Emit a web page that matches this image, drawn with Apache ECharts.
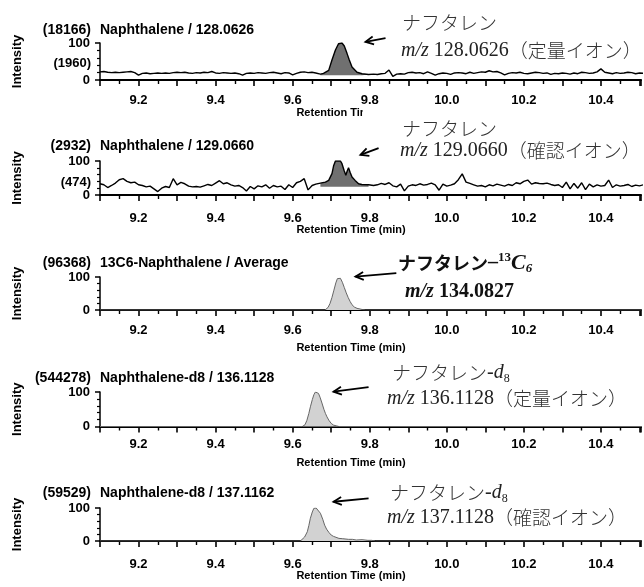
<!DOCTYPE html>
<html>
<head>
<meta charset="utf-8">
<script src="https://cdn.jsdelivr.net/npm/echarts@6/dist/echarts.min.js"></script>
<style>html,body{margin:0;padding:0;background:#fff}#c{width:644px;height:587px}</style>
</head>
<body>
<div id="c"></div>
<script>
// ---------- DATA ----------
const timesPre = [9.10,9.11,9.12,9.13,9.14,9.15,9.16,9.17,9.18,9.19,
  9.20,9.21,9.22,9.23,9.24,9.25,9.26,9.27,9.28,9.29,
  9.30,9.31,9.32,9.33,9.34,9.35,9.36,9.37,9.38,9.39,
  9.40,9.41,9.42,9.43,9.44,9.45,9.46,9.47,9.48,9.49,
  9.50,9.51,9.52,9.53,9.54,9.55,9.56,9.57,9.58,9.59,
  9.60,9.61,9.62,9.63,9.64];
const timesPost = [9.81,9.82,9.83,9.84,9.85,9.86,9.87,9.88,9.89,9.90,
  9.91,9.92,9.93,9.94,9.95,9.96,9.97,9.98,9.99,10.00,
  10.01,10.02,10.03,10.04,10.05,10.06,10.07,10.08,10.09,10.10,
  10.11,10.12,10.13,10.14,10.15,10.16,10.17,10.18,10.19,10.20,
  10.21,10.22,10.23,10.24,10.25,10.26,10.27,10.28,10.29,10.30,
  10.31,10.32,10.33,10.34,10.35,10.36,10.37,10.38,10.39,10.40,
  10.41,10.42,10.43,10.44,10.45,10.46,10.47,10.48,10.49,10.50,
  10.51,10.52,10.53,10.54,10.55];

// Panel 1: Naphthalene / 128.0626
const pre1 = [22,23,21,20,21,20,21,22,23,20, 13,18,19,17,18,19,18,19,18,20,
  21,20,21,19,18,20,19,21,20,23, 19,18,20,19,18,19,17,13,18,19,
  18,20,19,18,20,21,19,17,20,19, 14,18,21,22,20];
const peakTimes1 = [9.65,9.66,9.672,9.68,9.6935,9.702,9.711,9.719,9.728,9.734,9.741,9.747,9.754,9.767,9.78,9.797];
const peakVals1  = [21,19,16,18,26,54,81,98,100,92,72,54,35,21,17,15];
const post1 = [16,15,17,18,27,10,16,17,16,20, 21,19,20,17,22,18,13,17,19,18,
  15,19,20,19,17,21,18,20,22,21, 25,22,23,19,14,18,20,19,21,18,
  17,19,21,20,18,19,15,18,17,19, 18,16,19,17,21,20,18,19,22,30,
  21,19,17,20,18,19,21,20,17,19, 18,20,19,18,19];

// Panel 2: Naphthalene / 129.0660
const pre2 = [33,30,22,28,35,45,48,40,36,38, 30,28,24,26,18,10,20,25,22,48,
  30,37,33,26,24,25,23,27,31,28, 35,42,33,36,30,26,28,22,12,25,
  18,27,24,30,20,28,24,26,16,30, 22,36,40,48,15];
const peakTimes2 = [9.6505,9.66,9.672,9.685,9.6935,9.702,9.7065,9.711,9.7153,9.724,9.728,9.7335,9.738,9.742,9.745,9.749,9.754,9.762,9.771,9.7795,9.797];
const peakVals2  = [28,32,35,38,43,63,87,100,99,100,92,72,58,72,80,67,53,43,33,31,30];
const post2 = [28,30,34,31,36,27,24,32,12,26, 30,28,33,29,31,35,30,14,32,26,
  29,33,45,62,38,34,30,26,28,24, 30,27,32,29,26,31,28,36,33,40,
  44,32,36,34,33,35,31,28,30,22, 38,18,34,20,36,16,32,24,30,26,
  28,44,22,30,26,28,31,25,29,27, 30,26,28,27,29];

// Panel 3: 13C6-Naphthalene / Average
const times3 = [9.10,9.684,9.688,9.692,9.697,9.702,9.707,9.712,9.716,9.720,9.724,9.729,9.734,9.739,9.744,9.749,9.754,9.760,9.767,9.775,9.782,9.79,10.55];
const vals3  = [0,0,2,8,20,38,60,82,95,100,96,84,68,52,38,26,16,9,5,3,1,0,0];

// Panel 4: Naphthalene-d8 / 136.1128
const times4 = [9.10,9.625,9.632,9.637,9.642,9.646,9.651,9.655,9.659,9.663,9.667,9.671,9.676,9.681,9.685,9.689,9.694,9.700,9.706,9.713,9.720,10.55];
const vals4  = [0,0,5,18,38,57,78,92,100,100,96,85,68,50,38,28,18,9,4,2,0,0];

// Panel 5: Naphthalene-d8 / 137.1162
const times5 = [9.10,9.620,9.625,9.631,9.638,9.642,9.646,9.651,9.655,9.661,9.666,9.672,9.678,9.683,9.688,9.694,9.700,9.706,9.711,9.720,9.730,9.745,9.755,9.765,9.780,9.795,9.805,9.815,10.55];
const vals5  = [0,0,3,12,28,47,69,88,99,100,94,84,66,48,36,26,18,14,11,8,7,5,5,3,4,2,2,0,0];

const peakWindow1 = [9.672, 9.797];
const peakWindow2 = [9.672, 9.797];

const xTickLabels = ['9.2','9.4','9.6','9.8','10.0','10.2','10.4'];
const leftCounts = ['(18166)','(2932)','(96368)','(544278)','(59529)'];
const panelTitles = ['Naphthalene / 128.0626','Naphthalene / 129.0660','13C6-Naphthalene / Average','Naphthalene-d8 / 136.1128','Naphthalene-d8 / 137.1162'];
const noiseLabels = ['(1960)','(474)'];

// annotation arrows [tail, head] in data coords
const arrows = [
  [[9.841,113],[9.789,103]],
  [[9.823,138],[9.776,118]],
  [[9.869,112],[9.763,101]],
  [[9.797,114],[9.706,101]],
  [[9.797,129],[9.706,119]]
];

// ---------- BUILD ----------
const pair = (ts, vs) => ts.map((t, i) => [t, vs[i]]);
const d1 = pair(timesPre, pre1).concat(pair(peakTimes1, peakVals1), pair(timesPost, post1));
const d2 = pair(timesPre, pre2).concat(pair(peakTimes2, peakVals2), pair(timesPost, post2));
const d3 = pair(times3, vals3), d4 = pair(times4, vals4), d5 = pair(times5, vals5);
const f1 = d1.filter(p => p[0] >= peakWindow1[0] && p[0] <= peakWindow1[1]);
const f2 = d2.filter(p => p[0] >= peakWindow2[0] && p[0] <= peakWindow2[1]);

const FF = '"Liberation Sans", Arial, sans-serif';
const grids = [
  {left:100, right:0, top:43, height:37},
  {left:100, right:0, top:161, height:34},
  {left:100, right:0, top:277, height:33},
  {left:100, right:0, top:392, height:34.5},
  {left:100, right:0, top:508, height:33}
];
const labelMargins = [14, 17, 14, 11, 17];

const xAxes = grids.map((g, i) => ({
  gridIndex: i, type: 'value', min: 9.1, max: 10.504, interval: 0.1,
  axisLine: {lineStyle: {color: '#000', width: 2.2}},
  axisTick: {length: 6, lineStyle: {color: '#000', width: 1.6}},
  minorTick: {show: true, splitNumber: 2, length: 4, lineStyle: {color: '#000', width: 1.4}},
  splitLine: {show: false}, minorSplitLine: {show: false},
  axisLabel: {margin: labelMargins[i], fontSize: 13, fontWeight: 'bold', color: '#000', fontFamily: FF,
    formatter: v => { const s = v.toFixed(1); return xTickLabels.indexOf(s) >= 0 ? s : ''; }}
}));
const yAxes = grids.map((g, i) => ({
  gridIndex: i, type: 'value', min: 0, max: 100, interval: 100,
  name: 'Intensity', nameLocation: 'middle', nameGap: 76,
  nameTextStyle: {fontSize: 13, fontWeight: 'bold', color: '#000', fontFamily: FF},
  axisLine: {show: true, lineStyle: {color: '#000', width: 1.5}},
  axisTick: {show: true, length: 5, lineStyle: {color: '#000', width: 1.5}},
  minorTick: {show: true, splitNumber: 5, length: 3, lineStyle: {color: '#000', width: 1.2}},
  splitLine: {show: false}, minorSplitLine: {show: false},
  axisLabel: {margin: 10, fontSize: 13, fontWeight: 'bold', color: '#000', fontFamily: FF}
}));

const series = [
  {type:'line', xAxisIndex:0, yAxisIndex:0, data:f1, showSymbol:false, z:1,
   lineStyle:{width:0}, areaStyle:{color:'#707070', opacity:1, origin:13}},
  {type:'line', xAxisIndex:0, yAxisIndex:0, data:d1, showSymbol:false, z:2,
   lineStyle:{color:'#000', width:1.4}},
  {type:'line', xAxisIndex:1, yAxisIndex:1, data:f2, showSymbol:false, z:1,
   lineStyle:{width:0}, areaStyle:{color:'#707070', opacity:1, origin:24}},
  {type:'line', xAxisIndex:1, yAxisIndex:1, data:d2, showSymbol:false, z:2,
   lineStyle:{color:'#000', width:1.4}},
  {type:'line', xAxisIndex:2, yAxisIndex:2, data:d3, showSymbol:false,
   lineStyle:{color:'#666', width:1}, areaStyle:{color:'#d2d2d2', opacity:1}},
  {type:'line', xAxisIndex:3, yAxisIndex:3, data:d4, showSymbol:false,
   lineStyle:{color:'#666', width:1}, areaStyle:{color:'#d2d2d2', opacity:1}},
  {type:'line', xAxisIndex:4, yAxisIndex:4, data:d5, showSymbol:false,
   lineStyle:{color:'#666', width:1}, areaStyle:{color:'#d2d2d2', opacity:1}}
];

// ---------- TEXT ANNOTATIONS ----------
const titleY = [30, 146, 263, 378, 493];
const xNameY = [113, 230, 348, 463, 576];
const els = [];
titleY.forEach((y, i) => {
  els.push({type:'text', x:91, y:y, z:5, style:{text:leftCounts[i], align:'right', verticalAlign:'middle', font:'bold 14px ' + FF, fill:'#000'}});
  els.push({type:'text', x:100, y:y, z:5, style:{text:panelTitles[i], align:'left', verticalAlign:'middle', font:'bold 14px ' + FF, fill:'#000'}});
  els.push({type:'text', x:351, y:xNameY[i], z:5, style:{text:'Retention Time (min)', align:'center', verticalAlign:'middle', font:'bold 11px ' + FF, fill:'#000'}});
});
els.push({type:'text', x:91, y:63, z:5, style:{text:noiseLabels[0], align:'right', verticalAlign:'middle', font:'bold 13px ' + FF, fill:'#000'}});
els.push({type:'text', x:91, y:182, z:5, style:{text:noiseLabels[1], align:'right', verticalAlign:'middle', font:'bold 13px ' + FF, fill:'#000'}});
els.push({type:'rect', z:50, shape:{x:363, y:106, width:300, height:15}, style:{fill:'#fff'}});

const JP = '"Noto Sans CJK JP", sans-serif';
const SER = '"Liberation Serif", "DejaVu Serif", serif';
const rich = {
  jp:  {fontFamily: JP, fontSize: 19, fontWeight: 300, fill: '#333', lineHeight: 24},
  mz:  {fontFamily: SER, fontSize: 20, fontStyle: 'italic', fill: '#222', lineHeight: 24},
  num: {fontFamily: SER, fontSize: 20, fill: '#222', lineHeight: 24},
  di:  {fontFamily: SER, fontSize: 20, fontStyle: 'italic', fill: '#222', lineHeight: 24},
  sub: {fontFamily: SER, fontSize: 12, fill: '#222', verticalAlign: 'bottom', lineHeight: 24},
  jpb: {fontFamily: JP, fontSize: 18, fontWeight: 'bold', fill: '#111', lineHeight: 24},
  dsh: {fontFamily: SER, fontSize: 20, fontWeight: 'bold', fill: '#111', lineHeight: 24},
  sup: {fontFamily: SER, fontSize: 13, fontWeight: 'bold', fill: '#111', verticalAlign: 'top', lineHeight: 24},
  cb:  {fontFamily: SER, fontSize: 22, fontWeight: 'bold', fontStyle: 'italic', fill: '#111', lineHeight: 24},
  subb:{fontFamily: SER, fontSize: 13, fontWeight: 'bold', fontStyle: 'italic', fill: '#111', verticalAlign: 'bottom', lineHeight: 24},
  mzb: {fontFamily: SER, fontSize: 20, fontWeight: 'bold', fontStyle: 'italic', fill: '#111', lineHeight: 24},
  numb:{fontFamily: SER, fontSize: 20, fontWeight: 'bold', fill: '#111', lineHeight: 24}
};
const jt = (x, y, text) => ({type:'text', x:x, y:y, z:60, style:{text:text, rich:rich, align:'left', verticalAlign:'middle'}});
els.push(jt(402, 23, '{jp|ナフタレン}'));
els.push(jt(401, 51, '{mz|m/z}{num| 128.0626}{jp|（定量イオン）}'));
els.push(jt(402, 129, '{jp|ナフタレン}'));
els.push(jt(400, 151, '{mz|m/z}{num| 129.0660}{jp|（確認イオン）}'));
els.push(jt(398, 263, '{jpb|ナフタレン}{dsh|–}{sup|13}{cb|C}{subb|6}'));
els.push(jt(405, 292, '{mzb|m/z}{numb| 134.0827}'));
els.push(jt(392, 373, '{jp|ナフタレン}{num|-}{di|d}{sub|8}'));
els.push(jt(387, 399, '{mz|m/z}{num| 136.1128}{jp|（定量イオン）}'));
els.push(jt(390, 493, '{jp|ナフタレン}{num|-}{di|d}{sub|8}'));
els.push(jt(387, 518, '{mz|m/z}{num| 137.1128}{jp|（確認イオン）}'));

const chart = echarts.init(document.getElementById('c'), null, {renderer: 'canvas'});
chart.setOption({
  backgroundColor: '#fff',
  animation: false,
  grid: grids,
  xAxis: xAxes,
  yAxis: yAxes,
  series: series
});

// arrows: positions converted through the axes' scales
arrows.forEach((a, i) => {
  const p0 = chart.convertToPixel({gridIndex: i}, a[0]);
  const p1 = chart.convertToPixel({gridIndex: i}, a[1]);
  const dx = p1[0] - p0[0], dy = p1[1] - p0[1];
  const L = Math.sqrt(dx * dx + dy * dy), ux = dx / L, uy = dy / L;
  const hl = 8, hw = 4;
  const bx = p1[0] - ux * hl, by = p1[1] - uy * hl;
  els.push({type:'line', z:70, shape:{x1:p0[0], y1:p0[1], x2:p1[0], y2:p1[1]}, style:{stroke:'#000', lineWidth:1.8}});
  els.push({type:'polyline', z:70, shape:{points:[[bx - uy * hw, by + ux * hw], [p1[0], p1[1]], [bx + uy * hw, by - ux * hw]]}, style:{stroke:'#000', lineWidth:1.8, fill:null}});
});
chart.setOption({graphic: {elements: els}});
</script>
</body>
</html>
